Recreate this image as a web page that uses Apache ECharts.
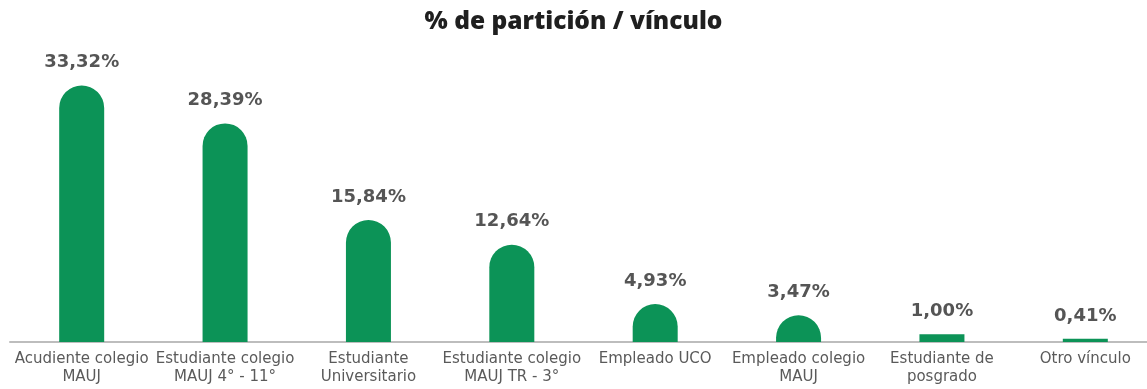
<!DOCTYPE html>
<html>
<head>
<meta charset="utf-8">
<script src="https://cdn.jsdelivr.net/npm/echarts@6/dist/echarts.min.js"></script>
<style>
  html, body { margin: 0; padding: 0; background: #ffffff; overflow: hidden; }
  #chart { width: 1147px; height: 389px; }
</style>
</head>
<body>
<div id="chart"></div>
<script>
// Participación por tipo de vínculo (%)
const categories = [
  'Acudiente colegio\nMAUJ',
  'Estudiante colegio\nMAUJ 4° - 11°',
  'Estudiante\nUniversitario',
  'Estudiante colegio\nMAUJ TR - 3°',
  'Empleado UCO',
  'Empleado colegio\nMAUJ',
  'Estudiante de\nposgrado',
  'Otro vínculo'
];
const values = [33.32, 28.39, 15.84, 12.64, 4.93, 3.47, 1.00, 0.41];

const GREEN = '#0c9357';

// Very short bars are drawn flat; taller ones get a rounded cap
const barData = values.map(v => ({
  value: v,
  itemStyle: { borderRadius: v < 2 ? 0 : [23, 23, 0, 0] }
}));

const chart = echarts.init(document.getElementById('chart'));
chart.setOption({
  animation: false,
  title: {
    text: '% de partición / vínculo',
    left: 'center',
    top: 5,
    textStyle: {
      fontFamily: 'Open Sans',
      fontWeight: 800,
      fontSize: 24.5,
      color: '#1f1f1f'
    }
  },
  grid: { left: 10, right: -10, top: 34, bottom: 47, outerBoundsMode: 'none', containLabel: false },
  xAxis: {
    type: 'category',
    data: categories,
    axisLine: { lineStyle: { color: '#bdbdbd', width: 2 } },
    axisTick: { show: false },
    axisLabel: {
      interval: 0,
      margin: 8,
      fontFamily: 'DejaVu Sans',
      fontSize: 15,
      lineHeight: 18,
      color: '#5a5a5a'
    }
  },
  yAxis: {
    type: 'value',
    min: 0,
    max: 40,
    show: false,
    splitLine: { show: false }
  },
  series: [{
    type: 'bar',
    data: barData,
    barWidth: 45,
    itemStyle: { color: GREEN },
    label: {
      show: true,
      position: 'top',
      distance: 14,
      fontFamily: 'DejaVu Sans',
      fontWeight: 'bold',
      fontSize: 18,
      color: '#555555',
      formatter: p => p.value.toFixed(2).replace('.', ',') + '%'
    }
  }]
});
</script>
</body>
</html>
